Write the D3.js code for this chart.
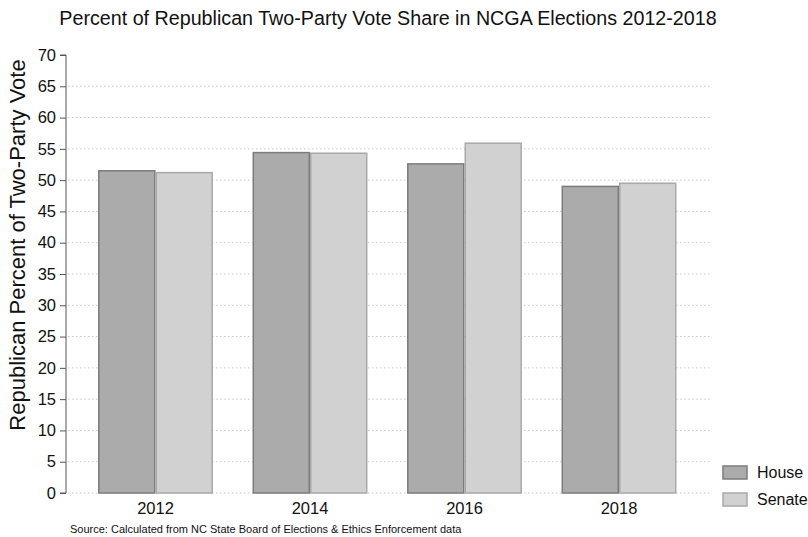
<!DOCTYPE html>
<html><head><meta charset="utf-8">
<script src="https://cdn.jsdelivr.net/npm/d3@7"></script>
<style>body{margin:0;background:#fff}svg{display:block;font-family:"Liberation Sans",Arial,sans-serif}</style>
</head><body><svg id="c" width="808" height="537"></svg>
<script>
const years = ["2012","2014","2016","2018"];
const seriesNames = ["House","Senate"];
const house = [51.5,54.4,52.6,49.0];
const senate = [51.2,54.3,55.9,49.5];
const yTicks = [0,5,10,15,20,25,30,35,40,45,50,55,60,65,70];
const title = "Percent of Republican Two-Party Vote Share in NCGA Elections 2012-2018";
const yTitle = "Republican Percent of Two-Party Vote";
const source = "Source: Calculated from NC State Board of Elections & Ethics Enforcement data";

const fills = {House:"#ababab", Senate:"#d1d1d1"};
const strokes = {House:"#7c7c7c", Senate:"#a9a9a9"};
const svg = d3.select("#c");
const y = d3.scaleLinear().domain([0,70]).range([493,55]);
const x = d3.scaleBand().domain(years).range([78.25,696.25]).paddingInner(0.256).paddingOuter(0.128);
const xs = d3.scaleBand().domain(seriesNames).range([0,x.bandwidth()]);
const data = years.map((yr,i)=>({year:yr, House:house[i], Senate:senate[i]}));

// grid
svg.append("g").selectAll("line").data(yTicks.filter(t=>t<70)).join("line")
  .attr("x1",68).attr("x2",710).attr("y1",d=>y(d)).attr("y2",d=>y(d))
  .attr("stroke","#c8c8c8").attr("stroke-width",1).attr("stroke-dasharray","1.5,2.5");

// bars
const g = svg.append("g").selectAll("g").data(data).join("g").attr("transform",d=>`translate(${x(d.year)},0)`);
g.selectAll("rect").data(d=>seriesNames.map(s=>({s,v:d[s]}))).join("rect")
  .attr("x",d=>xs(d.s)+0.75).attr("width",xs.bandwidth()-1.5)
  .attr("y",d=>y(d.v)).attr("height",d=>y(0)-y(d.v))
  .attr("fill",d=>fills[d.s]).attr("stroke",d=>strokes[d.s]).attr("stroke-width",1.5);

// y axis
const ya = svg.append("g").attr("transform","translate(66,0)")
  .call(d3.axisLeft(y).tickValues(yTicks).tickSize(6).tickPadding(4));
ya.select(".domain").attr("stroke","#555").attr("d",`M-6,${y(70)}H0V${y(0)}H-6`);
ya.selectAll(".tick line").attr("stroke","#555");
ya.selectAll("text").attr("font-size",16.5).attr("fill","#111").attr("font-family","Liberation Sans, Arial, sans-serif");

// x axis labels
const xa = svg.append("g").attr("transform",`translate(0,${y(0)})`)
  .call(d3.axisBottom(x).tickSize(0).tickPadding(9));
xa.select(".domain").remove();
xa.selectAll("text").attr("font-size",16.5).attr("fill","#111").attr("font-family","Liberation Sans, Arial, sans-serif");

// titles
svg.append("text").attr("x",388).attr("y",25).attr("text-anchor","middle")
  .attr("font-size",19.7).attr("fill","#111").text(title);
svg.append("text").attr("transform",`translate(25,${(y(0)+y(70))/2 - 29}) rotate(-90)`).attr("text-anchor","middle")
  .attr("font-size",22).attr("fill","#111").text(yTitle);
svg.append("text").attr("x",70).attr("y",533).attr("font-size",11).attr("fill","#111").text(source);

// legend
const lg = svg.append("g").selectAll("g").data(seriesNames).join("g")
  .attr("transform",(d,i)=>`translate(723,${466+i*27})`);
lg.append("rect").attr("width",24).attr("height",13).attr("fill",d=>fills[d]).attr("stroke",d=>strokes[d]).attr("stroke-width",1.5);
lg.append("text").attr("x",34).attr("y",12).attr("font-size",16).attr("fill","#111").text(d=>d);
</script></body></html>
